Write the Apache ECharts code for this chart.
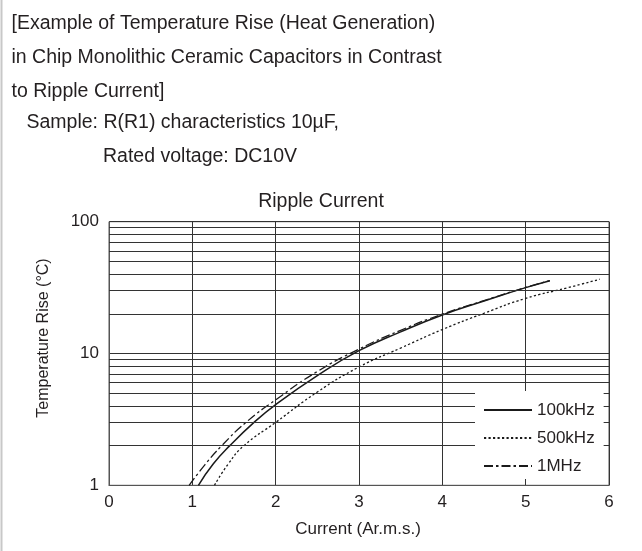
<!DOCTYPE html>
<html>
<head>
<meta charset="utf-8">
<script src="https://cdn.jsdelivr.net/npm/echarts@6/dist/echarts.min.js"></script>
<style>
html,body{margin:0;padding:0;background:#fff;}
#c{width:642px;height:551px;}
</style>
</head>
<body>
<div id="c"></div>
<script>
// ---- data ----
const headingLines = [
  '[Example of Temperature Rise (Heat Generation)',
  'in Chip Monolithic Ceramic Capacitors in Contrast',
  'to Ripple Current]',
  'Sample: R(R1) characteristics 10\u00b5F,',
  'Rated voltage: DC10V'
];
const chartTitle = 'Ripple Current';
const xName = 'Current (Ar.m.s.)';
const yName = 'Temperature Rise (\u00b0C)';
const seriesNames = ['100kHz', '500kHz', '1MHz'];

const x100k = [1.073, 1.25, 1.45, 1.74, 2.0, 2.5, 3.0, 3.5, 4.0, 4.5, 5.0, 5.29];
const y100k = [1, 1.45, 2, 3, 4.1, 6.8, 10.5, 14.6, 19.6, 25, 31.6, 35.7];

const x500k = [1.266, 1.43, 1.62, 2.0, 2.5, 3.0, 3.5, 4.0, 4.5, 5.0, 5.5, 5.89];
const y500k = [1, 1.45, 2, 3.0, 5.1, 7.9, 11.0, 15.2, 20.2, 26.2, 31.5, 36.6];

const x1M = [0.962, 1.15, 1.354, 1.643, 2.0, 2.5, 3.0, 3.5, 4.0, 4.5, 5.0, 5.29];
const y1M = [1, 1.43, 2, 3, 4.45, 7.3, 10.8, 15.0, 19.9, 25.2, 31.7, 35.7];

const minorGridValues = [2, 3, 4, 5, 6, 7, 8, 9, 20, 30, 40, 50, 60, 70, 80, 90];

// ---- helpers ----
const zip = (xs, ys) => xs.map((x, i) => [x, ys[i]]);
const txt = '#231f20';
const FONT = 'Liberation Sans, Arial, Helvetica, sans-serif';

const headingPos = [
  {x: 11.5, y: 24.5}, {x: 11.5, y: 58.5}, {x: 11.5, y: 92.5},
  {x: 26.5, y: 124}, {x: 103, y: 158}
];

const chart = echarts.init(document.getElementById('c'), null, {renderer: 'canvas'});

const lineBase = {type: 'line', symbol: 'none', smooth: 0.5, z: 3};

chart.setOption({
  animation: false,
  backgroundColor: '#fff',
  grid: {left: 109, right: 33, top: 221.7, bottom: 65.7, show: true,
         borderColor: '#555', borderWidth: 1, backgroundColor: 'transparent'},
  xAxis: {
    type: 'value', min: 0, max: 6, interval: 1,
    axisLine: {show: true, lineStyle: {color: '#555'}},
    axisTick: {show: false},
    axisLabel: {color: txt, fontSize: 17, fontFamily: FONT, margin: 9},
    splitLine: {show: true, lineStyle: {color: '#333', width: 1}}
  },
  yAxis: {
    type: 'log', logBase: 10, min: 1, max: 100,
    axisLine: {show: true, lineStyle: {color: '#555'}},
    axisTick: {show: false},
    axisLabel: {color: txt, fontSize: 17, fontFamily: FONT, margin: 10},
    splitLine: {show: true, lineStyle: {color: '#333', width: 1}},
    minorTick: {show: false}, minorSplitLine: {show: false}
  },
  legend: {
    orient: 'vertical', left: 475, top: 391, z: 10,
    backgroundColor: '#fff', padding: [9, 9, 3, 8],
    itemWidth: 48, itemHeight: 14, itemGap: 8, itemTextGap: 5,
    itemStyle: {color: 'rgba(0,0,0,0)', borderColor: 'rgba(0,0,0,0)', borderWidth: 0, opacity: 0},
    textStyle: {color: txt, fontSize: 17, fontFamily: FONT, lineHeight: 20},
    data: seriesNames.map(n => ({name: n}))
  },
  series: [
    {type: 'line', name: '_grid', data: [], silent: true,
     markLine: {silent: true, symbol: 'none', label: {show: false},
                lineStyle: {color: '#333', width: 1, type: 'solid'},
                emphasis: {disabled: true},
                data: minorGridValues.map(v => ({yAxis: v}))}},
    Object.assign({}, lineBase, {name: seriesNames[0], data: zip(x100k, y100k),
      lineStyle: {color: '#1a1a1a', width: 1.5, type: 'solid'}, itemStyle: {color: '#1a1a1a'}}),
    Object.assign({}, lineBase, {name: seriesNames[1], data: zip(x500k, y500k),
      lineStyle: {color: '#1a1a1a', width: 1.3, type: [2.2, 2.3]}, itemStyle: {color: '#1a1a1a'}}),
    Object.assign({}, lineBase, {name: seriesNames[2], data: zip(x1M, y1M),
      lineStyle: {color: '#1a1a1a', width: 1.3, type: [9, 3, 2.5, 3]}, itemStyle: {color: '#1a1a1a'}})
  ],
  graphic: [
    {type: 'line', shape: {x1: 1.5, y1: 0, x2: 1.5, y2: 551}, style: {stroke: '#c8c8c8', lineWidth: 2}, silent: true},
    ...headingLines.map((t, i) => ({
      type: 'text', left: headingPos[i].x, top: headingPos[i].y - 11,
      style: {text: t, fill: txt, font: '19.5px ' + FONT}
    })),
    {type: 'text', x: 321, y: 201.7, style: {text: chartTitle, fill: txt, font: '19.5px ' + FONT,
      textAlign: 'center', textVerticalAlign: 'middle'}},
    {type: 'text', x: 358, y: 529, style: {text: xName, fill: txt, font: '17px ' + FONT,
      textAlign: 'center', textVerticalAlign: 'middle'}},
    {type: 'text', x: 44, y: 338, rotation: Math.PI / 2, style: {text: yName, fill: txt, font: '16px ' + FONT,
      textAlign: 'center', textVerticalAlign: 'middle'}}
  ]
});
</script>
</body>
</html>
